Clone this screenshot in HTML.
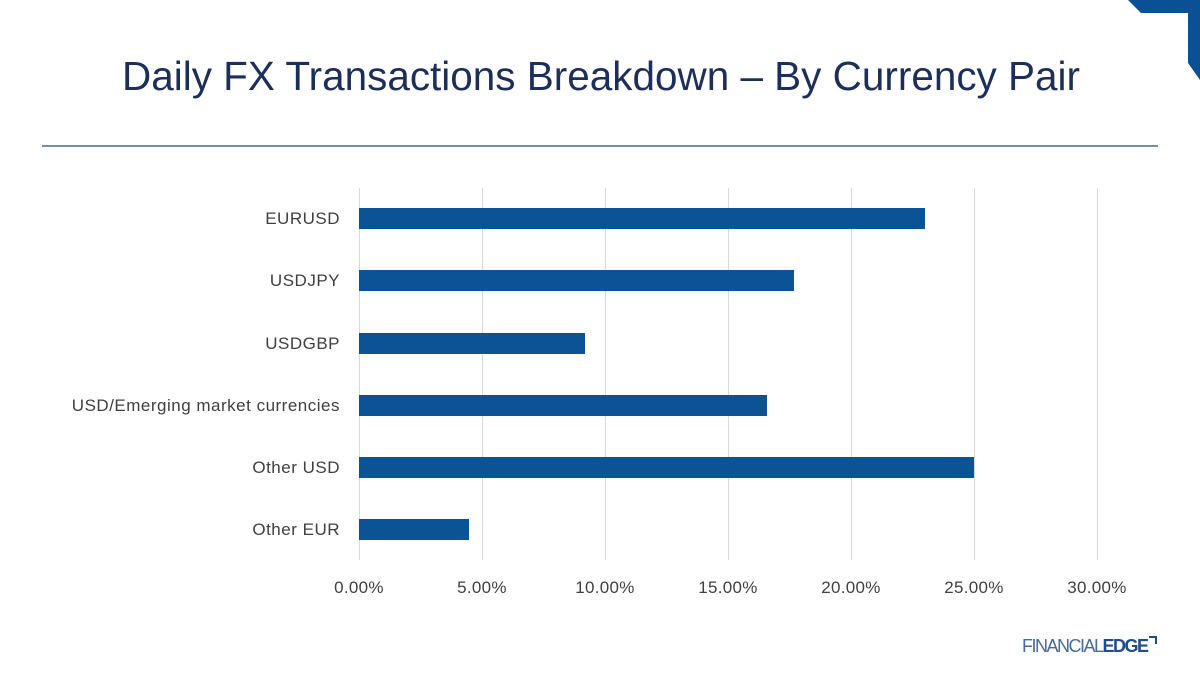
<!DOCTYPE html>
<html><head><style>
body{margin:0;width:1200px;height:675px;background:#fff;overflow:hidden;font-family:"Liberation Sans",sans-serif}
</style></head><body>
<svg width="1200" height="675" xmlns="http://www.w3.org/2000/svg">
<polygon points="1128,0 1200,0 1200,80 1188,63 1188,13 1141,13" fill="#0b4f94"/>
<text x="122" y="90" textLength="958" lengthAdjust="spacingAndGlyphs" font-size="41" fill="#1c2f5a" font-family="Liberation Sans, sans-serif">Daily FX Transactions Breakdown – By Currency Pair</text>
<line x1="42" y1="146" x2="1158" y2="146" stroke="#1f4e79" stroke-width="1.3"/>
<g stroke="#d9d9d9" stroke-width="1">
<line x1="359.5" y1="188" x2="359.5" y2="560"/><line x1="482.5" y1="188" x2="482.5" y2="560"/><line x1="605.5" y1="188" x2="605.5" y2="560"/><line x1="728.5" y1="188" x2="728.5" y2="560"/><line x1="851.5" y1="188" x2="851.5" y2="560"/><line x1="974.5" y1="188" x2="974.5" y2="560"/><line x1="1097.5" y1="188" x2="1097.5" y2="560"/>
</g>
<g fill="#0b5394">
<rect x="359" y="208" width="566" height="21"/>
<rect x="359" y="270" width="435" height="21"/>
<rect x="359" y="333" width="226" height="21"/>
<rect x="359" y="395" width="408" height="21"/>
<rect x="359" y="457" width="615" height="21"/>
<rect x="359" y="519" width="110" height="21"/>
</g>
<g font-size="17" fill="#404040" text-anchor="end" letter-spacing="0.5">
<text x="340" y="224">EURUSD</text>
<text x="340" y="286">USDJPY</text>
<text x="340" y="349">USDGBP</text>
<text x="340" y="411">USD/Emerging market currencies</text>
<text x="340" y="473">Other USD</text>
<text x="340" y="535">Other EUR</text>
</g>
<g font-size="17" fill="#404040" text-anchor="middle" letter-spacing="0.3">
<text x="359" y="593">0.00%</text><text x="482" y="593">5.00%</text><text x="605" y="593">10.00%</text><text x="728" y="593">15.00%</text><text x="851" y="593">20.00%</text><text x="974" y="593">25.00%</text><text x="1097" y="593">30.00%</text>
</g>
<text x="1022" y="652" font-size="18" fill="#4a6a9a" letter-spacing="-1.5">FINANCIAL<tspan font-weight="bold" fill="#1f4e8c">EDGE</tspan></text>
<polyline points="1149,637 1156,637 1156,644" fill="none" stroke="#1f4e8c" stroke-width="2"/>
</svg>
</body></html>
